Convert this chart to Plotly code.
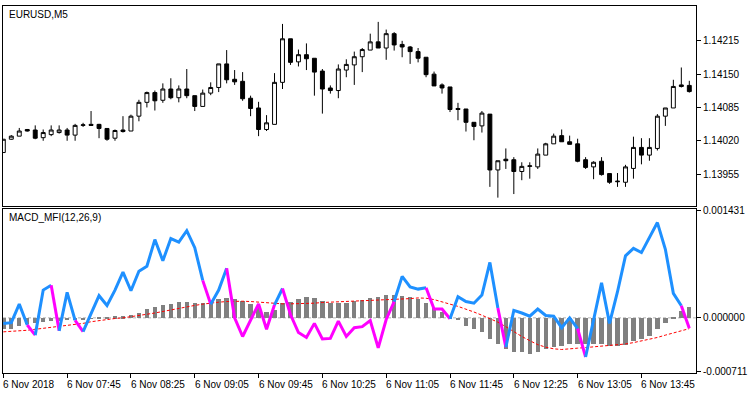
import plotly.graph_objects as go

# ---------------- data ----------------
bar_index = list(range(87))

candle_open = [1.13997, 1.14023, 1.14029, 1.14042, 1.14041, 1.14026, 1.14032, 1.14036, 1.14041, 1.14031,
               1.14050, 1.14052, 1.14052, 1.14044, 1.14025, 1.14041, 1.14039, 1.14068, 1.14095, 1.14114,
               1.14099, 1.14121, 1.14104, 1.14121, 1.14108, 1.14087, 1.14113, 1.14124, 1.14170, 1.14140,
               1.14136, 1.14103, 1.14084, 1.14042, 1.14052, 1.14134, 1.14219, 1.14174, 1.14188, 1.14181,
               1.14156, 1.14123, 1.14118, 1.14158, 1.14168, 1.14184, 1.14197, 1.14213, 1.14201, 1.14229,
               1.14208, 1.14203, 1.14194, 1.14183, 1.14150, 1.14129, 1.14125, 1.14083, 1.14082, 1.14056,
               1.14049, 1.14072, 1.13963, 1.13984, 1.13983, 1.13960, 1.13970, 1.13969, 1.13992, 1.14014,
               1.14030, 1.14018, 1.14014, 1.13983, 1.13969, 1.13980, 1.13956, 1.13940, 1.13939, 1.13966,
               1.14007, 1.13992, 1.14005, 1.14068, 1.14084, 1.14129, 1.14128]
candle_high = [1.14023, 1.14031, 1.14045, 1.14043, 1.14050, 1.14042, 1.14050, 1.14050, 1.14045, 1.14053,
               1.14055, 1.14078, 1.14053, 1.14044, 1.14042, 1.14068, 1.14071, 1.14100, 1.14116, 1.14118,
               1.14132, 1.14142, 1.14128, 1.14160, 1.14108, 1.14120, 1.14134, 1.14170, 1.14197, 1.14158,
               1.14154, 1.14108, 1.14096, 1.14070, 1.14152, 1.14248, 1.14219, 1.14198, 1.14210, 1.14181,
               1.14160, 1.14128, 1.14169, 1.14179, 1.14194, 1.14201, 1.14229, 1.14252, 1.14237, 1.14232,
               1.14215, 1.14205, 1.14201, 1.14183, 1.14155, 1.14132, 1.14125, 1.14094, 1.14082, 1.14056,
               1.14078, 1.14072, 1.13981, 1.14005, 1.13988, 1.13978, 1.13978, 1.14005, 1.14016, 1.14034,
               1.14042, 1.14030, 1.14024, 1.13988, 1.13980, 1.13988, 1.13956, 1.13957, 1.13973, 1.14028,
               1.14025, 1.14025, 1.14072, 1.14084, 1.14139, 1.14163, 1.14137]
candle_low = [1.13997, 1.14022, 1.14029, 1.14038, 1.14023, 1.14020, 1.14029, 1.14034, 1.14020, 1.14020,
              1.14047, 1.14049, 1.14025, 1.14020, 1.14020, 1.14036, 1.14039, 1.14058, 1.14085, 1.14079,
              1.14094, 1.14101, 1.14095, 1.14103, 1.14078, 1.14087, 1.14109, 1.14115, 1.14132, 1.14129,
              1.14098, 1.14068, 1.14029, 1.14039, 1.14052, 1.14121, 1.14168, 1.14165, 1.14158, 1.14108,
              1.14073, 1.14112, 1.14103, 1.14144, 1.14129, 1.14154, 1.14197, 1.14201, 1.14178, 1.14196,
              1.14183, 1.14170, 1.14173, 1.14144, 1.14127, 1.14112, 1.14076, 1.14060, 1.14038, 1.14021,
              1.14036, 1.13930, 1.13909, 1.13965, 1.13916, 1.13943, 1.13946, 1.13965, 1.13992, 1.14014,
              1.14018, 1.14013, 1.13978, 1.13965, 1.13945, 1.13952, 1.13936, 1.13930, 1.13930, 1.13946,
              1.13974, 1.13981, 1.14001, 1.14049, 1.14084, 1.14124, 1.14114]
candle_close = [1.14023, 1.14029, 1.14039, 1.14039, 1.14025, 1.14036, 1.14041, 1.14041, 1.14031, 1.14050,
                1.14051, 1.14050, 1.14044, 1.14023, 1.14040, 1.14038, 1.14068, 1.14095, 1.14114, 1.14098,
                1.14121, 1.14104, 1.14121, 1.14108, 1.14087, 1.14113, 1.14124, 1.14170, 1.14139, 1.14135,
                1.14102, 1.14083, 1.14042, 1.14055, 1.14134, 1.14219, 1.14173, 1.14188, 1.14180, 1.14154,
                1.14121, 1.14118, 1.14160, 1.14169, 1.14184, 1.14198, 1.14213, 1.14201, 1.14229, 1.14207,
                1.14203, 1.14194, 1.14181, 1.14149, 1.14127, 1.14123, 1.14081, 1.14081, 1.14056, 1.14048,
                1.14074, 1.13963, 1.13981, 1.13981, 1.13960, 1.13970, 1.13971, 1.13994, 1.14014, 1.14029,
                1.14018, 1.14013, 1.13980, 1.13968, 1.13978, 1.13954, 1.13939, 1.13941, 1.13969, 1.14007,
                1.13992, 1.14007, 1.14068, 1.14084, 1.14126, 1.14126, 1.14116]

macd_hist = [-0.000140, -0.000153, -0.000100, -0.000079, -0.000065, -0.000052, -0.000044, -0.000035, -0.000031, -0.000022,
             -0.000013, -0.000004, 0.000013, 0.000013, 0.000022, 0.000022, 0.000035, 0.000065, 0.000122, 0.000153,
             0.000174, 0.000187, 0.000209, 0.000209, 0.000205, 0.000205, 0.000227, 0.000249, 0.000262, 0.000253,
             0.000227, 0.000187, 0.000153, 0.000087, 0.000109, 0.000196, 0.000218, 0.000253, 0.000275, 0.000262,
             0.000227, 0.000196, 0.000205, 0.000205, 0.000227, 0.000240, 0.000262, 0.000275, 0.000305, 0.000305,
             0.000292, 0.000275, 0.000249, 0.000205, 0.000131, 0.000087, 0.000009, -0.000031, -0.000100, -0.000153,
             -0.000183, -0.000283, -0.000349, -0.000414, -0.000449, -0.000458, -0.000480, -0.000458, -0.000414, -0.000384,
             -0.000371, -0.000349, -0.000349, -0.000349, -0.000349, -0.000349, -0.000371, -0.000379, -0.000362, -0.000305,
             -0.000275, -0.000240, -0.000144, -0.000065, 0.000013, 0.000096, 0.000153]

signal_line = [-0.000187, -0.000183, -0.000174, -0.000166, -0.000153, -0.000140, -0.000131, -0.000118, -0.000105, -0.000092,
               -0.000074, -0.000052, -0.000035, -0.000022, -0.000009, 0.000000, 0.000013, 0.000031, 0.000048, 0.000065,
               0.000087, 0.000105, 0.000122, 0.000144, 0.000166, 0.000183, 0.000201, 0.000209, 0.000218, 0.000222,
               0.000222, 0.000218, 0.000209, 0.000196, 0.000187, 0.000187, 0.000187, 0.000187, 0.000192, 0.000196,
               0.000205, 0.000209, 0.000214, 0.000218, 0.000222, 0.000227, 0.000231, 0.000235, 0.000240, 0.000244,
               0.000249, 0.000257, 0.000266, 0.000262, 0.000244, 0.000218, 0.000183, 0.000153, 0.000118, 0.000078,
               0.000035, -0.000013, -0.000057, -0.000118, -0.000187, -0.000249, -0.000305, -0.000358, -0.000392, -0.000414,
               -0.000423, -0.000419, -0.000405, -0.000397, -0.000388, -0.000379, -0.000371, -0.000362, -0.000349, -0.000331,
               -0.000310, -0.000288, -0.000262, -0.000231, -0.000201, -0.000174, -0.000144]

mfi_line = [-0.000074, -0.000065, 0.000183, -0.000096, -0.000231, 0.000371, 0.000436, -0.000174, 0.000340, -0.000035,
            -0.000183, 0.000065, 0.000296, 0.000166, 0.000371, 0.000610, 0.000362, 0.000623, 0.000689, 0.001046,
            0.000763, 0.001059, 0.001012, 0.001164, 0.000937, 0.000501, 0.000183, 0.000371, 0.000663, 0.000000,
            -0.000249, -0.000022, 0.000187, -0.000153, 0.000174, 0.000392, 0.000044, -0.000196, -0.000262, -0.000074,
            -0.000283, -0.000275, -0.000044, -0.000249, -0.000131, -0.000118, -0.000035, -0.000401, -0.000022, 0.000218,
            0.000554, 0.000414, 0.000384, 0.000401, 0.000118, 0.000118, -0.000013, 0.000283, 0.000218, 0.000196,
            0.000305, 0.000741, 0.000131, -0.000392, 0.000100, 0.000065, 0.000022, 0.000118, 0.000031, 0.000022,
            -0.000131, 0.000000, -0.000144, -0.000523, -0.000044, 0.000467, -0.000074, 0.000349, 0.000828, 0.000929,
            0.000872, 0.001068, 0.001273, 0.000916, 0.000327, 0.000161, -0.000140]

# 0 = blue, 1 = magenta (colour of the segment ending at that bar)
mfi_color_idx = [0, 0, 0, 0, 1, 0, 0, 1, 0, 0,
                 1, 0, 0, 0, 0, 0, 0, 0, 0, 0,
                 0, 0, 0, 0, 0, 0, 1, 0, 0, 1,
                 1, 1, 1, 1, 1, 0, 1, 1, 1, 1,
                 1, 1, 1, 1, 1, 1, 1, 1, 1, 1,
                 0, 0, 0, 0, 1, 1, 1, 0, 0, 0,
                 0, 0, 0, 1, 0, 0, 0, 0, 0, 0,
                 0, 0, 0, 1, 0, 0, 0, 0, 0, 0,
                 0, 0, 0, 0, 0, 0, 1]

time_tick_idx = [0, 8, 16, 24, 32, 40, 48, 56, 64, 72, 80]
time_tick_labels = ["6 Nov 2018", "6 Nov 07:45", "6 Nov 08:25", "6 Nov 09:05", "6 Nov 09:45",
                    "6 Nov 10:25", "6 Nov 11:05", "6 Nov 11:45", "6 Nov 12:25", "6 Nov 13:05", "6 Nov 13:45"]

price_ticks = [1.14215, 1.14150, 1.14085, 1.14020, 1.13955]
price_tick_labels = ["1.14215", "1.14150", "1.14085", "1.14020", "1.13955"]
ind_ticks = [0.001431, 0.0, -0.000711]
ind_tick_labels = ["0.001431", "0.000000", "-0.000711"]

symbol_title = "EURUSD,M5"
indicator_title = "MACD_MFI(12,26,9)"

# ---------------- figure ----------------
FONT = "Liberation Sans Narrow, Liberation Sans, Arial, sans-serif"
BLUE = "#1E90FF"
MAGENTA = "#FF00FF"

fig = go.Figure()

fig.add_trace(go.Candlestick(
    x=bar_index, open=candle_open, high=candle_high, low=candle_low, close=candle_close,
    increasing=dict(line=dict(color="black", width=1), fillcolor="white"),
    decreasing=dict(line=dict(color="black", width=1), fillcolor="black"),
    whiskerwidth=0, xaxis="x", yaxis="y", showlegend=False, hoverinfo="skip"))

fig.add_trace(go.Bar(
    x=bar_index, y=macd_hist, width=0.55, marker=dict(color="#808080", line=dict(width=0)),
    xaxis="x2", yaxis="y2", showlegend=False, hoverinfo="skip"))

fig.add_trace(go.Scatter(
    x=bar_index, y=signal_line, mode="lines",
    line=dict(color="#FF0000", width=1, dash="3px,2px"),
    xaxis="x2", yaxis="y2", showlegend=False, hoverinfo="skip"))

# colored line built from runs of equal colour
palette = [BLUE, MAGENTA]
n = len(mfi_line)
i = 1
while i < n:
    c = mfi_color_idx[i]
    j = i
    while j + 1 < n and mfi_color_idx[j + 1] == c:
        j += 1
    xs = bar_index[i - 1:j + 1]
    ys = mfi_line[i - 1:j + 1]
    fig.add_trace(go.Scatter(
        x=xs, y=ys, mode="lines", line=dict(color=palette[c], width=3),
        xaxis="x2", yaxis="y2", showlegend=False, hoverinfo="skip"))
    i = j + 1

x_range = [-0.04, 86.84]
axis_common = dict(showgrid=False, zeroline=False, showline=True, mirror=True,
                   linecolor="black", linewidth=1)

fig.update_layout(
    width=750, height=394,
    margin=dict(l=2, r=53, t=2, b=21),
    paper_bgcolor="white", plot_bgcolor="white",
    font=dict(family=FONT, size=10, color="black"),
    bargap=0,
    xaxis=dict(domain=[0, 1], anchor="y", range=x_range, showticklabels=False, ticks="",
               rangeslider=dict(visible=False), **axis_common),
    yaxis=dict(domain=[0.4555, 1], anchor="x", side="right", range=[1.13893, 1.14283],
               tickvals=price_ticks, ticktext=price_tick_labels, ticks="outside", ticklen=4,
               tickcolor="black", tickfont=dict(family=FONT, size=10, color="black"), **axis_common),
    xaxis2=dict(domain=[0, 1], anchor="y2", range=x_range, matches="x",
                tickvals=time_tick_idx, showticklabels=False, ticks="outside", ticklen=4,
                tickcolor="black", **axis_common),
    yaxis2=dict(domain=[0, 0.4474], anchor="x2", side="right", range=[-0.000737, 0.001457],
                tickvals=ind_ticks, ticktext=ind_tick_labels, ticks="outside", ticklen=4,
                tickcolor="black", tickfont=dict(family=FONT, size=10, color="black"), **axis_common),
    shapes=[dict(type="line", xref="x2 domain", yref="y2", x0=0, x1=1, y0=0, y1=0,
                 line=dict(color="#B4B4B4", width=1, dash="3px,2px"), layer="below")],
)

annotations = [
    dict(text=symbol_title, xref="paper", yref="paper", x=0.006, y=0.978, xanchor="left",
         yanchor="middle", showarrow=False, font=dict(family=FONT, size=10, color="black")),
    dict(text=indicator_title, xref="paper", yref="paper", x=0.006, y=0.423, xanchor="left",
         yanchor="middle", showarrow=False, font=dict(family=FONT, size=10, color="black")),
]
for tv, tl in zip(time_tick_idx, time_tick_labels):
    annotations.append(dict(text=tl, xref="x2", yref="paper", x=tv, y=-0.030, xanchor="left",
                            yanchor="middle", showarrow=False, xshift=-2,
                            font=dict(family=FONT, size=10, color="black")))
fig.update_layout(annotations=annotations)

fig.write_html("out.html", config={"displayModeBar": False},
               post_script="document.body.style.margin='0';document.body.style.padding='0';")
